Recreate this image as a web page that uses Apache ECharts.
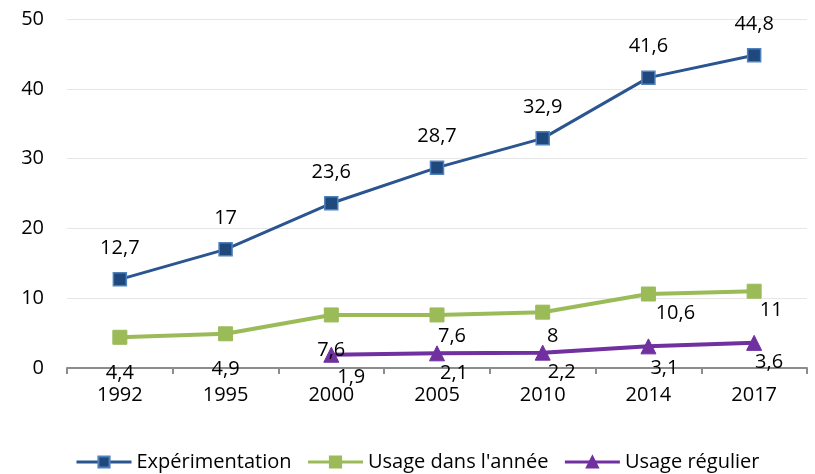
<!DOCTYPE html>
<html><head><meta charset="utf-8">
<script src="https://cdn.jsdelivr.net/npm/echarts@6/dist/echarts.min.js"></script>
<style>html,body{margin:0;padding:0;background:#fff}#c{width:815px;height:474px}</style>
</head><body><div id="c"></div>
<script>
const categories = ['1992','1995','2000','2005','2010','2014','2017'];
const experimentation = [12.7, 17, 23.6, 28.7, 32.9, 41.6, 44.8];
const usageAnnee = [4.4, 4.9, 7.6, 7.6, 8, 10.6, 11];
const usageRegulier = [null, null, 1.9, 2.1, 2.2, 3.1, 3.6];
const seriesNames = ['Expérimentation', "Usage dans l'année", 'Usage régulier'];
const yTicks = [0, 10, 20, 30, 40, 50];

// label offsets (style only)
const offBlue = categories.map(() => [0, -31]);
const offGreen = [[0,36],[0,35],[0,35],[15,21],[10,24],[27,19],[17,19]];
const offPurple = [null,null,[20,23],[17,20],[19,20],[16,22],[15,19]];

const FONT = '"Open Sans"';
const FS = 20;
const fmt = v => String(v).replace('.', ',');
function withLabels(vals, offs) {
  return vals.map((v, i) => v == null ? null : ({ value: v, label: { offset: offs[i] } }));
}
const labelBase = { show: true, position: 'inside', color: '#000', fontFamily: FONT, fontSize: FS,
  formatter: p => fmt(p.value) };

const chart = echarts.init(document.getElementById('c'), null, { renderer: 'canvas' });
chart.setOption({
  animation: false,
  textStyle: { fontFamily: FONT },
  grid: { left: 67, right: 8, top: 19, bottom: 106, containLabel: false },
  legend: {
    left: 75, top: 452, padding: 0, itemWidth: 55, itemHeight: 14, itemGap: 15,
    lineStyle: { width: 3 },
    textStyle: { fontFamily: FONT, fontSize: FS, color: '#000' },
    data: seriesNames
  },
  xAxis: {
    type: 'category', data: categories, boundaryGap: true,
    axisLine: { lineStyle: { color: '#8c8c8c', width: 2 } },
    axisTick: { show: true, length: 6, lineStyle: { color: '#8c8c8c', width: 2 } },
    axisLabel: { color: '#000', fontFamily: FONT, fontSize: FS, margin: 17 }
  },
  yAxis: {
    type: 'value', min: yTicks[0], max: yTicks[yTicks.length - 1], interval: 10,
    axisLine: { show: false }, axisTick: { show: false },
    axisLabel: { color: '#000', fontFamily: FONT, fontSize: FS, margin: 23 },
    splitLine: { lineStyle: { color: '#e6e6e6', width: 1 } }
  },
  series: [
    { name: seriesNames[0], type: 'line', data: withLabels(experimentation, offBlue),
      symbol: 'rect', symbolSize: 13,
      lineStyle: { color: '#2a5590', width: 3 },
      itemStyle: { color: '#1f497d', borderColor: '#4f81bd', borderWidth: 1.5 },
      label: labelBase, z: 3 },
    { name: seriesNames[1], type: 'line', data: withLabels(usageAnnee, offGreen),
      symbol: 'rect', symbolSize: 14,
      lineStyle: { color: '#9bbb59', width: 4 },
      itemStyle: { color: '#9bbb59', borderColor: '#9bbb59', borderWidth: 1 },
      label: labelBase, z: 2 },
    { name: seriesNames[2], type: 'line', data: withLabels(usageRegulier, offPurple),
      symbol: 'triangle', symbolSize: 15,
      lineStyle: { color: '#7030a0', width: 4 },
      itemStyle: { color: '#7030a0', borderColor: '#7030a0', borderWidth: 1 },
      label: labelBase, z: 2 }
  ]
});
</script></body></html>
